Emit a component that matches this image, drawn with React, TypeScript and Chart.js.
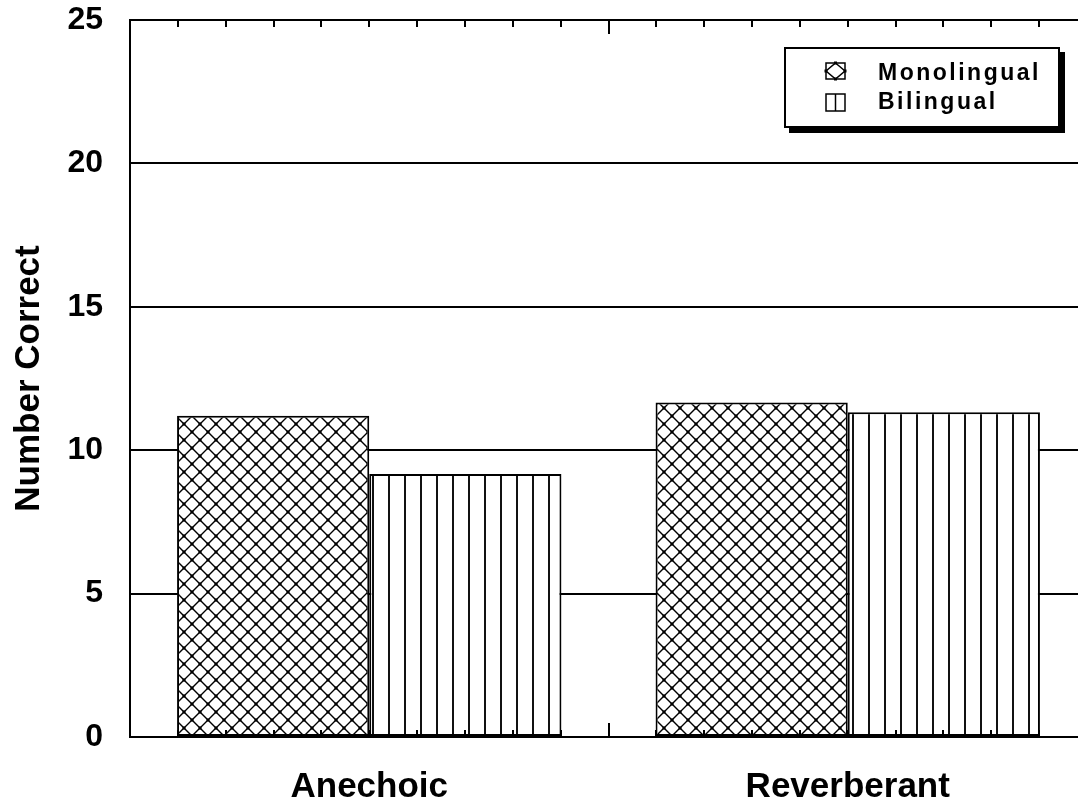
import React, { useEffect, useRef } from "react";
import { Chart, registerables } from "chart.js";

Chart.register(...registerables);

const categories = ["Anechoic", "Reverberant"];
const seriesNames = ["Monolingual", "Bilingual"];
const monolingual = [11.2, 11.66];
const bilingual = [9.17, 11.32];
const yTickValues = [0, 5, 10, 15, 20, 25];
const yTitle = "Number Correct";

const FONT = "'Liberation Sans', Arial, sans-serif";

function makeCrossPattern(ctx: CanvasRenderingContext2D) {
  const s = 16;
  const c = document.createElement("canvas");
  c.width = s;
  c.height = s;
  const g = c.getContext("2d")!;
  g.fillStyle = "#fff";
  g.fillRect(0, 0, s, s);
  g.strokeStyle = "#000";
  g.lineWidth = 1.4;
  g.beginPath();
  g.moveTo(-4, -4);
  g.lineTo(s + 4, s + 4);
  g.moveTo(s + 4, -4);
  g.lineTo(-4, s + 4);
  g.stroke();
  g.fillStyle = "#000";
  const pts = [
    [8, 8],
    [0, 0],
    [16, 0],
    [0, 16],
    [16, 16],
  ];
  pts.forEach(([x, y]) => g.fillRect(x - 1.5, y - 1.5, 3, 3));
  return ctx.createPattern(c, "repeat")!;
}

function makeVerticalPattern(ctx: CanvasRenderingContext2D) {
  const s = 16;
  const c = document.createElement("canvas");
  c.width = s;
  c.height = s;
  const g = c.getContext("2d")!;
  g.fillStyle = "#fff";
  g.fillRect(0, 0, s, s);
  g.fillStyle = "#111";
  g.fillRect(4, 0, 2, s);
  return ctx.createPattern(c, "repeat")!;
}

const tickMarksPlugin = {
  id: "tickMarks",
  afterDatasetsDraw(chart: any) {
    const { ctx, chartArea } = chart;
    const xs = chart.scales.x;
    const w = xs.getPixelForValue(1) - xs.getPixelForValue(0);
    const start = xs.getPixelForValue(0) - w / 2;
    const n = categories.length * 10;
    ctx.save();
    ctx.strokeStyle = "#000";
    ctx.lineWidth = 2;
    for (let i = 1; i <= n; i++) {
      const x = Math.round(start + (i * w) / 10);
      const major = i % 10 === 0;
      const len = major ? 14 : 7;
      ctx.beginPath();
      ctx.moveTo(x, chartArea.top);
      ctx.lineTo(x, chartArea.top + len);
      ctx.moveTo(x, chartArea.bottom);
      ctx.lineTo(x, chartArea.bottom - len);
      ctx.stroke();
    }
    ctx.restore();
  },
};

const legendPlugin = {
  id: "boxLegend",
  afterDraw(chart: any) {
    const ctx: CanvasRenderingContext2D = chart.ctx;
    const bx = 784;
    const by = 47;
    const bw = 276;
    const bh = 81;
    ctx.save();
    ctx.fillStyle = "#000";
    ctx.fillRect(bx + 5, by + 5, bw, bh);
    ctx.fillStyle = "#fff";
    ctx.fillRect(bx, by, bw, bh);
    ctx.strokeStyle = "#000";
    ctx.lineWidth = 2;
    ctx.strokeRect(bx + 1, by + 1, bw - 2, bh - 2);

    // Monolingual symbol
    const sx = 826;
    const s1y = 63;
    const sw = 19;
    const sh = 16;
    ctx.lineWidth = 1.5;
    ctx.strokeRect(sx, s1y, sw, sh);
    ctx.beginPath();
    ctx.moveTo(sx + sw / 2, s1y);
    ctx.lineTo(sx + sw, s1y + sh / 2);
    ctx.lineTo(sx + sw / 2, s1y + sh);
    ctx.lineTo(sx, s1y + sh / 2);
    ctx.closePath();
    ctx.stroke();
    ctx.fillStyle = "#000";
    [
      [sx + sw / 2, s1y],
      [sx + sw, s1y + sh / 2],
      [sx + sw / 2, s1y + sh],
      [sx, s1y + sh / 2],
    ].forEach(([x, y]) => ctx.fillRect(x - 1.5, y - 1.5, 3, 3));

    // Bilingual symbol
    const s2y = 94;
    ctx.strokeRect(sx, s2y, sw, sh + 1);
    ctx.beginPath();
    ctx.moveTo(sx + sw / 2, s2y);
    ctx.lineTo(sx + sw / 2, s2y + sh + 1);
    ctx.stroke();

    ctx.fillStyle = "#000";
    ctx.font = `bold 23px ${FONT}`;
    (ctx as any).letterSpacing = "2.5px";
    ctx.textBaseline = "alphabetic";
    ctx.textAlign = "left";
    ctx.fillText(seriesNames[0], 878, 80);
    ctx.fillText(seriesNames[1], 878, 109);
    ctx.restore();
  },
};

export default function App() {
  const ref = useRef<HTMLCanvasElement>(null);

  useEffect(() => {
    const canvas = ref.current!;
    const ctx = canvas.getContext("2d")!;
    const cross = makeCrossPattern(ctx);
    const vert = makeVerticalPattern(ctx);
    const chart = new Chart(canvas, {
      type: "bar",
      data: {
        labels: categories,
        datasets: [
          {
            label: seriesNames[0],
            data: monolingual,
            backgroundColor: cross as any,
            borderColor: "#000",
            borderWidth: 2,
            borderSkipped: false,
            categoryPercentage: 0.8033,
            barPercentage: 1,
          },
          {
            label: seriesNames[1],
            data: bilingual,
            backgroundColor: vert as any,
            borderColor: "#000",
            borderWidth: 2,
            borderSkipped: false,
            categoryPercentage: 0.8033,
            barPercentage: 1,
          },
        ],
      },
      options: {
        responsive: false,
        animation: false,
        devicePixelRatio: 1,
        layout: { padding: { left: 0, top: 20, right: 3, bottom: 0 } },
        plugins: {
          legend: { display: false },
          tooltip: { enabled: false },
        },
        scales: {
          x: {
            type: "category",
            offset: true,
            grid: { display: false, drawTicks: false },
            border: { display: true, color: "#000", width: 2 },
            ticks: {
              color: "#000",
              font: { family: FONT, size: 35, weight: "bold" },
              padding: 29,
              maxRotation: 0,
            },
            afterFit: (s: any) => {
              s.height = 71;
              s.paddingLeft = 0;
              s.paddingRight = 0;
            },
          },
          y: {
            min: 0,
            max: 25,
            afterBuildTicks: (s: any) => {
              s.ticks = yTickValues.map((v) => ({ value: v }));
            },
            grid: { color: "#000", lineWidth: 2, drawTicks: false },
            border: { display: true, color: "#000", width: 2 },
            ticks: {
              color: "#000",
              font: { family: FONT, size: 32, weight: "bold" },
              padding: 27,
            },
            title: {
              display: true,
              text: yTitle,
              color: "#000",
              font: { family: FONT, size: 35, weight: "bold" },
              padding: { top: 8, bottom: 0 },
            },
            afterFit: (s: any) => {
              s.width = 130;
              s.paddingTop = 0;
              s.paddingBottom = 0;
            },
          },
        },
      },
      plugins: [tickMarksPlugin, legendPlugin],
    } as any);
    return () => chart.destroy();
  }, []);

  return (
    <div
      style={{
        position: "fixed",
        left: 0,
        top: 0,
        width: 1078,
        height: 808,
        overflow: "hidden",
        background: "#fff",
      }}
    >
      <canvas ref={ref} width={1090} height={808} style={{ display: "block" }} />
    </div>
  );
}
